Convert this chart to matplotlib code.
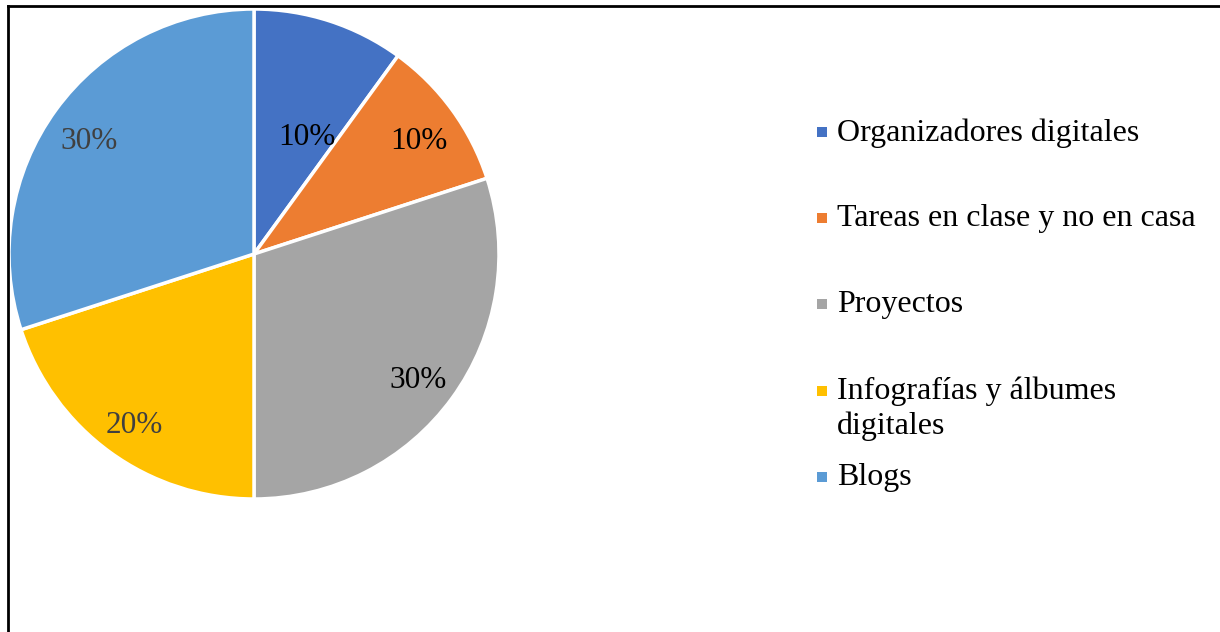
import matplotlib
matplotlib.use("Agg")
import matplotlib.pyplot as plt
from matplotlib.patches import Rectangle
from matplotlib.lines import Line2D
import numpy as np

categories = ["Organizadores digitales", "Tareas en clase y no en casa", "Proyectos",
              "Infografías y álbumes\ndigitales", "Blogs"]
values = [10, 10, 30, 20, 30]
colors = ["#4472C4", "#ED7D31", "#A5A5A5", "#FFC000", "#5B9BD5"]
label_colors = ["#000000", "#000000", "#000000", "#404040", "#404040"]

plt.rcParams['font.family'] = ['Liberation Serif', 'DejaVu Serif']

W, H = 1220, 632
fig = plt.figure(figsize=(W / 100, H / 100), dpi=100)

# pie axes: center (254,254) px, radius 245 px
cx, cy, r = 254, 254, 245
ax = fig.add_axes([(cx - r) / W, (H - cy - r) / H, 2 * r / W, 2 * r / H])
wedges, texts, autotexts = ax.pie(values, colors=colors, startangle=90, counterclock=False,
                                  autopct=lambda p: f"{p:.0f}%", pctdistance=0.83,
                                  wedgeprops=dict(edgecolor="white", linewidth=2.5),
                                  textprops=dict(fontsize=22.5))
ax.set_xlim(-1, 1)
ax.set_ylim(-1, 1)
ax.set_aspect('equal')
for t, c in zip(autotexts, label_colors):
    t.set_color(c)
    x, y = t.get_position()
    t.set_position((x, y - 0.028))
# Excel moved the first label inward
autotexts[0].set_position((0.533 * np.cos(np.radians(66)), 0.533 * np.sin(np.radians(66)) - 0.01))

# frame lines (left and top)
fig.add_artist(Line2D([8 / W, 8 / W], [0, 1 - 6 / H], color="black", lw=2, transform=fig.transFigure))
fig.add_artist(Line2D([8 / W, 1], [1 - 6 / H, 1 - 6 / H], color="black", lw=2, transform=fig.transFigure))

# legend
y0, step = 132, 86.2
for i, (lab, col) in enumerate(zip(categories, colors)):
    y = y0 + step * i
    fig.add_artist(Rectangle((817 / W, 1 - (y + 5) / H), 10 / W, 10 / H, facecolor=col,
                             edgecolor="none", transform=fig.transFigure))
    fig.text(837 / W, 1 - (y - 14) / H, lab, fontsize=23, va="top", ha="left",
             color="black", linespacing=1.25)

fig.savefig("out.png", dpi=100)
